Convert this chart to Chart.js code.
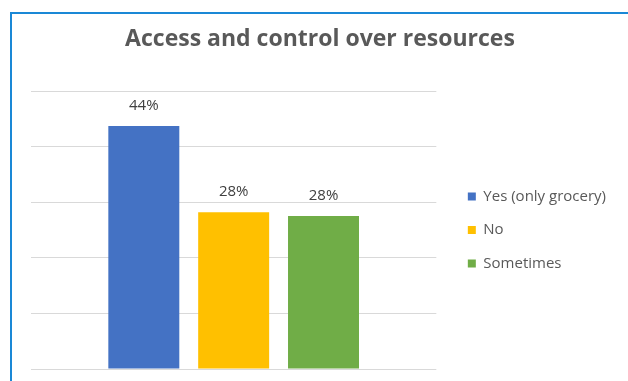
<!DOCTYPE html>
<html>
<head>
<meta charset="utf-8">
<script src="https://cdn.jsdelivr.net/npm/chart.js@4/dist/chart.umd.min.js"></script>
<style>
  html, body { margin: 0; padding: 0; background: #fff; }
  #wrap { position: relative; width: 628px; height: 381px; overflow: hidden; }
  #frame {
    position: absolute; left: 10px; top: 12px; width: 700px; height: 500px;
    border-left: 2px solid #1a88d6; border-top: 2px solid #1a88d6;
    pointer-events: none;
  }
</style>
</head>
<body>
<div id="wrap">
  <canvas id="chart" width="628" height="381"></canvas>
  <div id="frame"></div>
</div>
<script>
// Chart data
const chartTitle = 'Access and control over resources';
const seriesNames = ['Yes (only grocery)', 'No', 'Sometimes'];
const seriesValues = [0.437, 0.282, 0.275];
const seriesColors = ['#4472C4', '#FFC000', '#70AD47'];
const yTicks = [0, 0.1, 0.2, 0.3, 0.4, 0.5];

const FONT = '"Open Sans", "DejaVu Sans", sans-serif';

// Draws the percent labels above each bar
const barLabels = {
    id: 'barLabels',
    afterDatasetsDraw: function(chart) {
        const ctx = chart.ctx;
        ctx.save();
        ctx.font = '15px ' + FONT;
        ctx.fillStyle = '#404040';
        ctx.textAlign = 'center';
        ctx.textBaseline = 'middle';
        chart.data.datasets.forEach(function(ds, i) {
            const bar = chart.getDatasetMeta(i).data[0];
            if (!bar) return;
            ctx.fillText(Math.round(ds.data[0] * 100) + '%', bar.x, bar.y - 20);
        });
        ctx.restore();
    }
};

new Chart(document.getElementById('chart'), {
    type: 'bar',
    data: {
        labels: [''],
        datasets: seriesNames.map(function(name, i) {
            return {
                label: name,
                data: [seriesValues[i]],
                backgroundColor: seriesColors[i],
                categoryPercentage: 0.665,
                barPercentage: 0.79
            };
        })
    },
    options: {
        responsive: false,
        animation: false,
        layout: {
            padding: { left: 24, right: 12, top: 16, bottom: 12 }
        },
        scales: {
            x: { display: false },
            y: {
                min: 0,
                max: 0.5,
                afterBuildTicks: function(scale) {
                    scale.ticks = yTicks.map(function(v) { return { value: v }; });
                },
                ticks: { display: false },
                grid: { color: '#d9d9d9', drawTicks: false },
                border: { display: false },
                afterFit: function(scale) { scale.width = 7; }
            },
            // spacer between plot and legend
            gap: {
                position: 'right',
                display: true,
                ticks: { display: false },
                grid: { display: false },
                border: { display: false },
                afterFit: function(scale) { scale.width = 13; }
            }
        },
        plugins: {
            title: {
                display: true,
                text: chartTitle,
                color: '#595959',
                font: { family: FONT, size: 23, weight: 'bold' },
                padding: { top: 10, bottom: 37.4 }
            },
            legend: {
                position: 'right',
                fullSize: false,
                maxWidth: 200,
                labels: {
                    boxWidth: 8,
                    boxHeight: 8,
                    padding: 18.5,
                    color: '#595959',
                    font: { family: FONT, size: 15 }
                }
            },
            tooltip: { enabled: false }
        }
    },
    plugins: [barLabels]
});
</script>
</body>
</html>
